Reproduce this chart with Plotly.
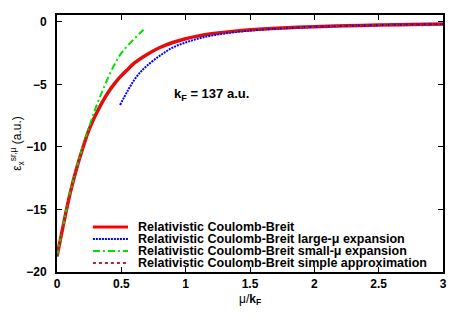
import plotly.graph_objects as go

# Relativistic Coulomb-Breit (exact)
mu_exact = [0, 0.05, 0.1, 0.15, 0.2, 0.25, 0.3, 0.35, 0.4, 0.45, 0.5, 0.55, 0.6,
            0.7, 0.8, 0.9, 1.0, 1.1, 1.2, 1.4, 1.6, 1.8, 2.0, 2.25, 2.5, 2.75, 3.0]
eps_exact = [-18.75, -16.2, -13.8, -11.8, -10.1, -8.6, -7.45, -6.45, -5.6, -4.9, -4.3, -3.8, -3.3,
             -2.6, -2.05, -1.65, -1.35, -1.12, -0.95, -0.72, -0.57, -0.46, -0.38, -0.31, -0.25, -0.21, -0.17]

# large-mu expansion
mu_large = [0.49, 0.55, 0.6, 0.65, 0.7, 0.8, 0.9, 1.0, 1.1, 1.2, 1.4, 1.6, 1.8, 2.0, 2.25, 2.5, 2.75, 3.0]
eps_large = [-6.65, -5.5, -4.65, -4.0, -3.5, -2.7, -2.05, -1.65, -1.33, -1.1, -0.8, -0.61, -0.49,
             -0.4, -0.32, -0.26, -0.21, -0.18]

# small-mu expansion
mu_small = [0, 0.05, 0.1, 0.15, 0.2, 0.25, 0.3, 0.35, 0.4, 0.45, 0.5, 0.55, 0.6, 0.65, 0.69]
eps_small = [-18.75, -16.2, -13.75, -11.75, -10.0, -8.4, -6.9, -5.6, -4.4, -3.35, -2.5, -1.9,
             -1.35, -0.85, -0.45]

# simple approximation
mu_simple = mu_exact
eps_simple = [-18.75, -16.2, -13.8, -11.8, -10.1, -8.6, -7.45, -6.45, -5.6, -4.9, -4.3, -3.8, -3.3,
              -2.6, -2.05, -1.65, -1.35, -1.12, -0.95, -0.72, -0.57, -0.46, -0.38, -0.31, -0.25, -0.21, -0.17]

names = ["Relativistic Coulomb-Breit",
         "Relativistic Coulomb-Breit large-μ expansion",
         "Relativistic Coulomb-Breit small-μ expansion",
         "Relativistic Coulomb-Breit simple approximation"]
colors = ["#ff0000", "#0000ff", "#00e000", "#a52a2a"]
widths = [3.5, 2, 2, 2]
dashes = ["solid", "2px,1px", "7px,3px,2px,3px", "3px,3px"]

fig = go.Figure()
series = [(mu_exact, eps_exact), (mu_large, eps_large), (mu_small, eps_small), (mu_simple, eps_simple)]
for (xs, ys), name, c, w, d in zip(series, names, colors, widths, dashes):
    fig.add_trace(go.Scatter(x=xs, y=ys, mode="lines", name=name, showlegend=False,
                             line=dict(color=c, width=w, dash=d, shape="spline")))

# hand-drawn key (gnuplot style, tight rows)
key_y = [0.175, 0.128, 0.082, 0.035]
for ky, name, c, w, d in zip(key_y, names, colors, widths, dashes):
    fig.add_shape(type="line", xref="paper", yref="paper", x0=0.093, x1=0.184, y0=ky, y1=ky,
                  line=dict(color=c, width=min(w, 3), dash=d))
    fig.add_annotation(x=0.205, y=ky, xref="paper", yref="paper", xanchor="left",
                       yanchor="middle", showarrow=False, text="<b>%s</b>" % name,
                       font=dict(size=12.5, color="black"))

fig.add_annotation(x=1.2, y=-5.8, xref="x", yref="y", showarrow=False,
                   text="<b>k<sub>F</sub> = 137 a.u.</b>",
                   font=dict(size=13, color="black"))

axis_common = dict(showline=True, linewidth=2, linecolor="black", mirror="allticks",
                   ticks="inside", ticklen=5, tickcolor="black", showgrid=False,
                   zeroline=False, tickfont=dict(size=12, color="black",
                                                 family="Liberation Sans", weight="bold"))

fig.update_xaxes(range=[0, 3], tickvals=[0, 0.5, 1, 1.5, 2, 2.5, 3],
                 ticktext=["0", "0.5", "1", "1.5", "2", "2.5", "3"],
                 title=dict(text="μ/<b>k<sub>F</sub></b>", font=dict(size=12, color="black"),
                            standoff=4),
                 **axis_common)
fig.update_yaxes(range=[-20, 0.55], tickvals=[-20, -15, -10, -5, 0],
                 ticklabelstandoff=6,
                 title=dict(text="ε<sub>x</sub><sup>sr,μ</sup> (a.u.)",
                            font=dict(size=12, color="black"), standoff=4),
                 **axis_common)

# page body adds an 8px offset, so the figure is shrunk to match
fig.update_layout(
    width=459, height=319,
    margin=dict(l=49, r=24, t=7, b=55, autoexpand=False),
    paper_bgcolor="white", plot_bgcolor="white",
    font=dict(family="Liberation Sans", color="black"),
    showlegend=False,
)

fig.write_html("out.html")
